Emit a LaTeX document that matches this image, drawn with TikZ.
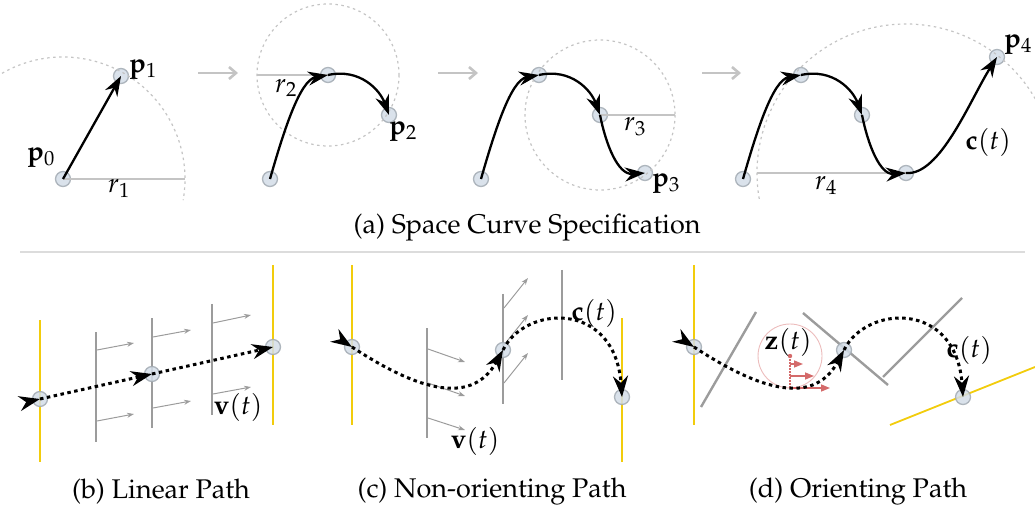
\documentclass[tikz,border=0pt]{standalone}
\usepackage[T1]{fontenc}
\usepackage{mathpazo}
\usetikzlibrary{arrows.meta,decorations.markings}

\definecolor{ptfill}{HTML}{D3DDE8}
\definecolor{ptedge}{HTML}{A3ABB3}
\definecolor{planegray}{HTML}{9C9C9C}
\definecolor{guidegray}{HTML}{C4C4C4}
\definecolor{gold}{HTML}{F2CC0C}
\definecolor{zred}{HTML}{D46A6A}

\tikzset{
  waypt/.style={circle, fill=ptfill, draw=ptedge, line width=1.3pt, minimum size=15pt, inner sep=0pt, opacity=0.85},
  acurve/.style={line width=2.3pt, -{Stealth[length=20pt,width=14pt]}},
  dcurve/.style={line width=3pt, dash pattern=on 3.5pt off 3.5pt, -{Stealth[length=21pt,width=15pt]}},
  startarrow/.style={postaction={decorate}, decoration={markings,
      mark=at position 0 with {\arrow{Stealth[length=21pt,width=15pt]}}}},
  reach/.style={guidegray, line width=1.2pt, dash pattern=on 2.5pt off 3.5pt},
  radius line/.style={guidegray, line width=1.3pt},
  stagearrow/.style={guidegray, line width=2.6pt, -{Straight Barb[length=7pt,width=12pt]}},
  plane/.style={planegray, line width=2.4pt},
  goal/.style={gold, line width=1.8pt},
  dirarrow/.style={planegray, line width=1pt, -{Stealth[length=7pt,width=5pt]}},
  zarrow/.style={zred, line width=1.4pt, -{Triangle[length=9pt,width=7pt]}},
  lbl/.style={inner sep=0pt}
}

\begin{document}
\begin{tikzpicture}[x=1pt,y=-1pt,font=\fontsize{27}{31}\selectfont]
\useasboundingbox (0,0) rectangle (1035,510);

% ---------- (a) space curve specification ----------
% step 1
\node[waypt] (a1s) at (63,179) {};
\node[waypt] (a1p1) at (121,76) {};
\draw[radius line] (a1s.center) -- (185,179);
\draw[reach] (a1s.center) ++(-120:122) arc[start angle=-120, end angle=10, radius=122];
\draw[acurve] (a1s.center) -- (a1p1.center);
\node[lbl] (a1l0) at (41,158) {$\mathbf{p}_0$};
\node[lbl] (a1l1) at (143,70) {$\mathbf{p}_1$};
\node[lbl] (a1r) at (119,189) {$r_1$};

% step 2
\node[waypt] (a2s) at (270,179) {};
\node[waypt] (a2p1) at (328,75) {};
\node[waypt] (a2p2) at (389,115) {};
\draw[reach] (a2p1.center) circle (71);
\draw[radius line] (257,75) -- (a2p1.center);
\draw[acurve] (a2s.center) .. controls (284,130) and (300,80) .. (a2p1.center);
\draw[acurve] (a2p1.center) .. controls (360,68) and (380,90) .. (a2p2.center);
\node[lbl] (a2r) at (286,88) {$r_2$};
\node[lbl] (a2l2) at (403,132) {$\mathbf{p}_2$};

% step 3
\node[waypt] (a3s) at (481,179) {};
\node[waypt] (a3p1) at (539,75) {};
\node[waypt] (a3p2) at (600,115) {};
\node[waypt] (a3p3) at (645,173) {};
\draw[reach] (a3p2.center) circle (75);
\draw[radius line] (a3p2.center) -- (675,115);
\draw[acurve] (a3s.center) .. controls (495,130) and (511,80) .. (a3p1.center);
\draw[acurve] (a3p1.center) .. controls (571,68) and (591,90) .. (a3p2.center);
\draw[acurve] (a3p2.center) .. controls (606,145) and (618,175) .. (a3p3.center);
\node[lbl] (a3r) at (635,127) {$r_3$};
\node[lbl] (a3l3) at (666,184) {$\mathbf{p}_3$};

% step 4
\node[waypt] (a4s) at (743,179) {};
\node[waypt] (a4p1) at (801,75) {};
\node[waypt] (a4p2) at (862,115) {};
\node[waypt] (a4p3) at (906,173) {};
\node[waypt] (a4p4) at (997,57) {};
\draw[radius line] (757,173) -- (a4p3.center);
\draw[reach] (a4p3.center) ++(-190:149) arc[start angle=-190, end angle=-25, radius=149];
\draw[acurve] (a4s.center) .. controls (757,130) and (773,80) .. (a4p1.center);
\draw[acurve] (a4p1.center) .. controls (833,68) and (853,90) .. (a4p2.center);
\draw[acurve] (a4p2.center) .. controls (868,145) and (880,175) .. (a4p3.center);
\draw[acurve] (a4p3.center) .. controls (940,176) and (970,100) .. (a4p4.center);
\node[lbl] (a4r) at (826,186) {$r_4$};
\node[lbl] (a4c) at (988,142) {$\mathbf{c}(t)$};
\node[lbl] (a4l4) at (1018,45) {$\mathbf{p}_4$};

% stage arrows
\draw[stagearrow] (198,73) -- (238,73);
\draw[stagearrow] (438,73) -- (478,73);
\draw[stagearrow] (702,73) -- (741,73);

\node (capa) at (527,228) {(a) Space Curve Specification};
\draw[guidegray!60, line width=1.5pt] (20,252) -- (1025,252);

% ---------- (b) linear path ----------
\draw[goal] (40,320) -- (40,462);
\draw[goal] (273,265) -- (273,425);
\draw[plane] (96,332) -- (96,442);
\draw[plane] (152,318) -- (152,428);
\draw[plane] (212,304) -- (212,415);
\draw[dirarrow] (97,350) -- (134,343);
\draw[dirarrow] (97,421) -- (134,414);
\draw[dirarrow] (153,337) -- (191,330);
\draw[dirarrow] (153,408) -- (191,401);
\draw[dirarrow] (213,323) -- (251,315);
\draw[dirarrow] (213,394) -- (251,387);
\node[waypt] (bs) at (40,399) {};
\node[waypt] (bm) at (152,374) {};
\node[waypt] (be) at (273,347) {};
\draw[dcurve, startarrow] (bs.center) -- (bm.center);
\draw[dcurve] (bm.center) -- (be.center);
\node[lbl] (bv) at (238,407) {$\mathbf{v}(t)$};
\node (capb) at (161,492) {(b) Linear Path};

% ---------- (c) non-orienting path ----------
\draw[goal] (352,265) -- (352,425);
\draw[goal] (622,318) -- (622,462);
\draw[plane] (427,328) -- (427,438);
\draw[plane] (503,294) -- (503,404);
\draw[plane] (562,270) -- (562,380);
\draw[dirarrow] (428,349) -- (465,362);
\draw[dirarrow] (428,383) -- (465,396);
\draw[dirarrow] (428,418) -- (465,430);
\draw[dirarrow] (504,308) -- (528,278);
\draw[dirarrow] (504,345) -- (528,315);
\draw[dirarrow] (504,383) -- (528,353);
\node[waypt] (cs) at (352,347) {};
\node[waypt] (cm) at (503,350) {};
\node[waypt] (ce) at (622,397) {};
\draw[dcurve, startarrow] (cs.center) .. controls (410,385) and (470,410) .. (cm.center);
\draw[dcurve] (cm.center) .. controls (525,305) and (615,300) .. (ce.center);
\node[lbl] (cc) at (594,313) {$\mathbf{c}(t)$};
\node[lbl] (cv) at (475,441) {$\mathbf{v}(t)$};
\node (capc) at (492,492) {(c) Non-orienting Path};

% ---------- (d) orienting path ----------
\draw[goal] (694,265) -- (694,425);
\draw[goal] (890,425) -- (1035,367);
\draw[plane] (701,407) -- (756,312);
\draw[plane] (803,313) -- (888,385);
\draw[plane] (883,377) -- (962,298);
\draw[zred!45, line width=0.9pt] (790,356) circle (32);
\draw[zred, line width=1.2pt, dash pattern=on 1.5pt off 1.5pt] (790,356) -- (790,388);
\fill[zred] (790,356) circle (2.2);
\draw[zarrow] (790,364) -- (803,364);
\draw[zarrow] (790,376) -- (814,376);
\draw[zarrow] (790,388) -- (830,388);
\node[waypt] (ds) at (694,347) {};
\node[waypt] (dm) at (844,350) {};
\node[waypt] (de) at (963,397) {};
\draw[dcurve, startarrow] (ds.center) .. controls (752,385) and (812,410) .. (dm.center);
\draw[dcurve] (dm.center) .. controls (866,305) and (956,300) .. (de.center);
\node[lbl] (dz) at (788,342) {$\mathbf{z}(t)$};
\node[lbl] (dc) at (969,350) {$\mathbf{c}(t)$};
\node (capd) at (858,492) {(d) Orienting Path};
\end{tikzpicture}
\end{document}
